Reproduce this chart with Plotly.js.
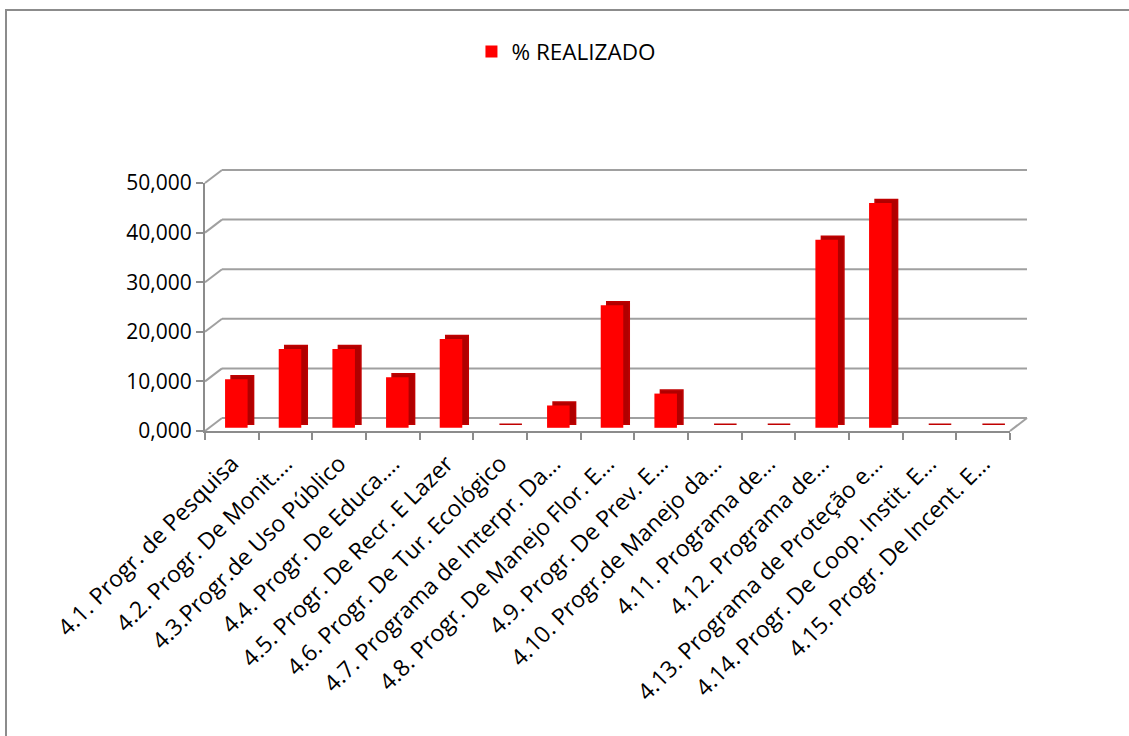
<!DOCTYPE html>
<html>
<head>
<meta charset="utf-8">
<script src="https://cdn.plot.ly/plotly-3.0.1.min.js"></script>
<style>
  html, body { margin: 0; padding: 0; background: #fff; overflow: hidden; width: 1129px; height: 736px; }
  #frame { position: absolute; left: 5px; top: 9px; width: 1130px; height: 735px;
           border-left: 2px solid #8c8c8c; border-top: 2px solid #8c8c8c; }
  #chart { position: absolute; left: 0; top: 0; width: 1129px; height: 736px; }
</style>
</head>
<body>
<div id="frame"></div>
<div id="chart"></div>
<script>
// ---- data ----
const categories = [
  "4.1. Progr. de Pesquisa",
  "4.2. Progr. De Monit.…",
  "4.3.Progr.de Uso Público",
  "4.4. Progr. De Educa.…",
  "4.5. Progr. De Recr. E Lazer",
  "4.6. Progr. De Tur. Ecológico",
  "4.7. Programa de Interpr. Da…",
  "4.8. Progr. De Manejo Flor. E…",
  "4.9. Progr. De Prev. E…",
  "4.10. Progr.de Manejo da…",
  "4.11. Programa de…",
  "4.12. Programa de…",
  "4.13. Programa de Proteção e…",
  "4.14. Progr. De Coop. Instit. E…",
  "4.15. Progr. De Incent. E…"
];
const realizado = [9.8, 15.9, 15.9, 10.2, 17.9, 0, 4.5, 24.7, 6.9, 0, 0, 37.9, 45.3, 0, 0];
const seriesName = "% REALIZADO";
const tickVals = [0, 10, 20, 30, 40, 50];
const tickText = ["0,000", "10,000", "20,000", "30,000", "40,000", "50,000"];

// ---- style / geometry constants ----
const W = 1129, H = 736;
const M = {l: 205, r: 119, t: 183, b: 305};
const plotW = W - M.l - M.r, plotH = H - M.t - M.b;
const nCat = categories.length;
const yMax = tickVals[tickVals.length - 1];
const pxPerCat = plotW / nCat, pxPerUnit = plotH / yMax;
const depthX = 17, depthY = 13;             // back-wall offset in px
const barShiftX = 4.5 / pxPerCat;           // bar mid-depth shift (categories)
const barBase = 3.2 / pxPerUnit;            // bar mid-depth lift (units)
const sideX = 6 / pxPerCat, sideY = 3.5 / pxPerUnit;
const barW = 0.42;
const grid = "#a0a0a0", axisCol = "#8c8c8c";
const FONT = "'Open Sans', Lato, sans-serif";

// paper coordinate helpers
const px2paperX = dpx => dpx / plotW;
const unit2paperY = v => v / yMax;
const dX = px2paperX(depthX), dY = depthY / plotH;

const shapes = [];
tickVals.forEach(v => {
  // back-wall gridline
  shapes.push({type: "line", xref: "paper", yref: "paper", layer: "below",
    x0: dX, x1: 1 + dX, y0: unit2paperY(v) + dY, y1: unit2paperY(v) + dY,
    line: {color: grid, width: 2}});
  // side-wall diagonal
  shapes.push({type: "line", xref: "paper", yref: "paper", layer: "below",
    x0: 0, x1: dX, y0: unit2paperY(v), y1: unit2paperY(v) + dY,
    line: {color: grid, width: 2}});
});
// floor right edge
shapes.push({type: "line", xref: "paper", yref: "paper", layer: "below",
  x0: 1, x1: 1 + dX, y0: 0, y1: dY, line: {color: grid, width: 2}});

const traces = [
  { // side / top depth faces
    type: "bar", x: categories, y: realizado, base: barBase + sideY,
    offset: -barW / 2 + barShiftX + sideX, width: barW,
    marker: {color: "#b00000", line: {color: "#c00000", width: 1.5}},
    showlegend: false, hoverinfo: "skip"
  },
  { // front faces
    type: "bar", name: seriesName, x: categories, y: realizado, base: barBase,
    offset: -barW / 2 + barShiftX, width: barW,
    marker: {color: "#ff0000"},
    showlegend: true
  }
];

const layout = {
  width: W, height: H,
  margin: M,
  paper_bgcolor: "rgba(0,0,0,0)", plot_bgcolor: "rgba(0,0,0,0)",
  barmode: "overlay",
  font: {family: FONT, color: "#000"},
  showlegend: true,
  legend: {x: 0.331, y: 1.615, xanchor: "left", yanchor: "top",
           font: {family: FONT, size: 22.5, color: "#000"}, bgcolor: "rgba(0,0,0,0)"},
  xaxis: {
    type: "category", range: [-0.5, nCat - 0.5],
    showgrid: false, zeroline: false,
    showline: true, linecolor: axisCol, linewidth: 2,
    ticks: "outside", tickson: "boundaries", ticklen: 7, tickcolor: axisCol, tickwidth: 2,
    ticklabelstandoff: 8,
    tickangle: -45, tickfont: {family: FONT, size: 23, color: "#000"}, automargin: false
  },
  yaxis: {
    range: [0, yMax], tickvals: tickVals, ticktext: tickText,
    showgrid: false, zeroline: false,
    showline: true, linecolor: axisCol, linewidth: 2,
    ticks: "outside", ticklen: 7, tickcolor: axisCol, tickwidth: 2,
    tickfont: {family: FONT, size: 21, color: "#000"}, automargin: false
  },
  shapes: shapes
};

Plotly.newPlot("chart", traces, layout, {displayModeBar: false, staticPlot: true});
</script>
</body>
</html>
